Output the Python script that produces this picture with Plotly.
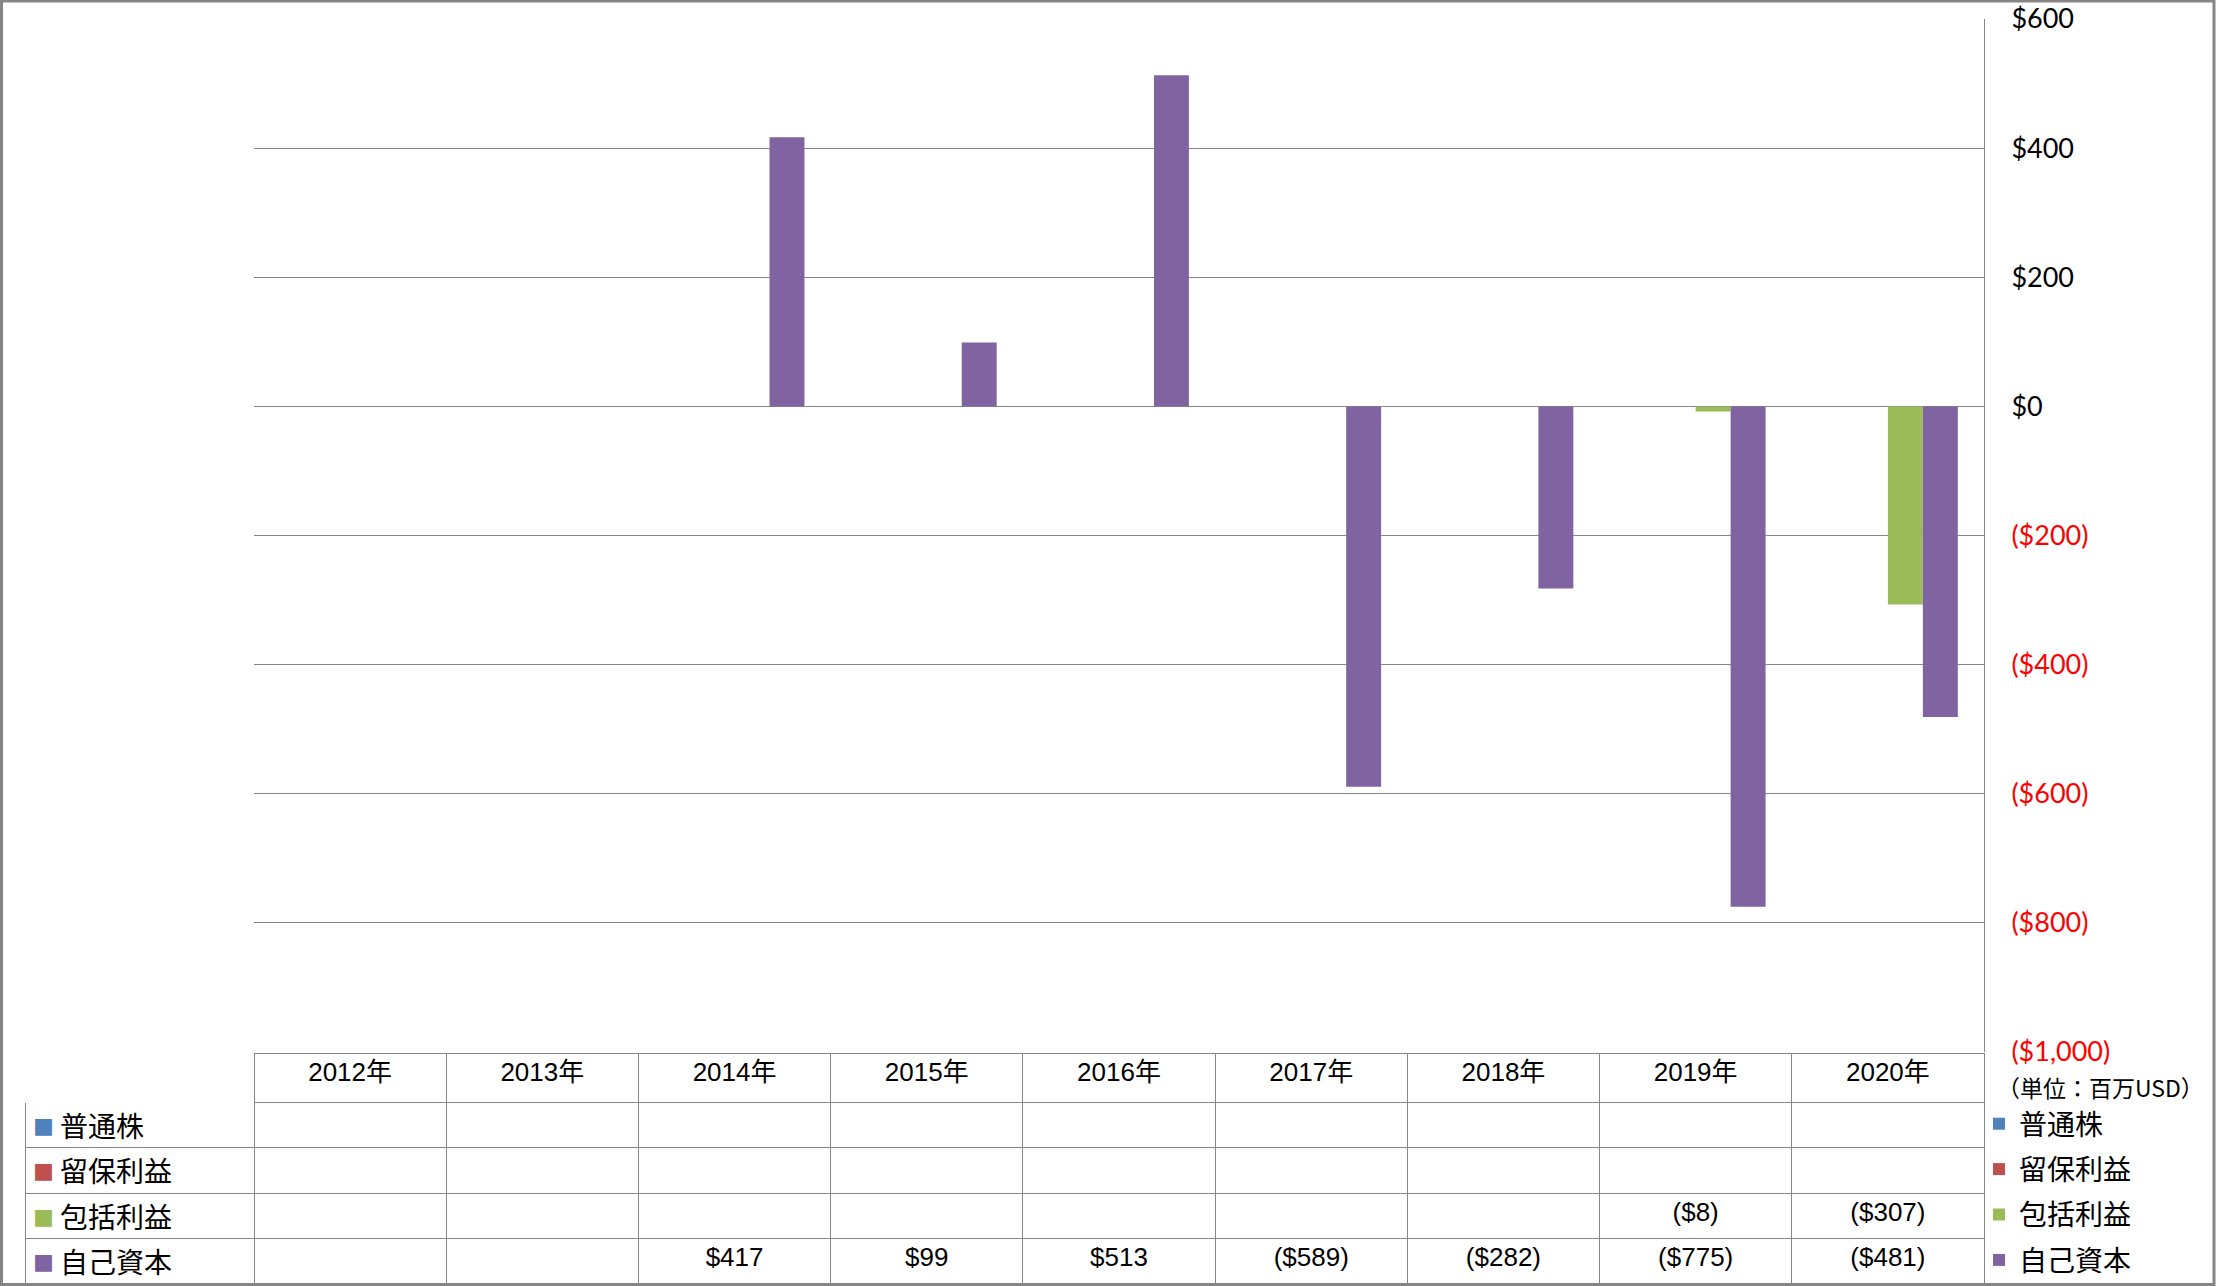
import plotly.graph_objects as go

# ---------------- data ----------------
years = ["2012年", "2013年", "2014年", "2015年", "2016年", "2017年", "2018年", "2019年", "2020年"]
series_names = ["普通株", "留保利益", "包括利益", "自己資本"]
common_stock = [None, None, None, None, None, None, None, None, None]
retained_earnings = [None, None, None, None, None, None, None, None, None]
comprehensive_income = [None, None, None, None, None, None, None, -8, -307]
equity = [None, None, 417, 99, 513, -589, -282, -775, -481]
tick_values = [600, 400, 200, 0, -200, -400, -600, -800, -1000]
unit_label = "（単位：百万USD）"

colors = ["#4F81BD", "#C0504D", "#9BBB59", "#8064A2"]
series_values = [common_stock, retained_earnings, comprehensive_income, equity]

# ---------------- geometry ----------------
W, H = 2216, 1286
ML, MR, MT, MB = 25, 232, 19, 2
PW = W - ML - MR
PH = H - MT - MB
plot_left_px = 254
plot_bottom_px = 1052
table_top_px = 1053
header_h = 49
cell_h = 45.5


def px_to_paper_x(px):
    return (px - ML) / PW


def px_to_paper_y(py):
    return (H - MB - py) / PH


def fmt(v):
    if v is None:
        return ""
    if v < 0:
        return "(${:,})".format(-v)
    return "${:,}".format(v)


def tick_fmt(v):
    if v < 0:
        return '<span style="color:#FF0000">(${:,})</span>'.format(-v)
    return "${:,}".format(v)


fig = go.Figure()

for name, vals, col in zip(series_names, series_values, colors):
    fig.add_trace(go.Bar(
        name=name, x=years, y=vals, marker=dict(color=col, line=dict(width=0)),
        legendgroup=name, showlegend=True,
        xaxis="x", yaxis="y",
    ))

# data table
table_cols = [["" for _ in series_names]]
for i in range(len(years)):
    table_cols.append([fmt(s[i]) for s in series_values])

grid = "#868686"
tfont = "Liberation Sans, Noto Sans CJK JP"
fig.add_trace(go.Table(
    domain=dict(x=[0, 1], y=[0, px_to_paper_y(table_top_px)]),
    columnwidth=[plot_left_px - ML] + [(W - MR - plot_left_px) / len(years)] * len(years),
    header=dict(
        values=[""] + years,
        height=header_h,
        align="center",
        fill=dict(color="white"),
        line=dict(color=["white"] + [grid] * len(years), width=1),
        font=dict(family=tfont, size=26, color="black"),
    ),
    cells=dict(
        values=table_cols,
        height=cell_h,
        align=["left"] + ["center"] * len(years),
        fill=dict(color="white"),
        line=dict(color=grid, width=1),
        font=dict(family=tfont, size=26, color="black"),
    ),
))

# row labels of the data table, with their colour keys
annotations = []
for k, (n, c) in enumerate(zip(series_names, colors)):
    yc = table_top_px + header_h + cell_h * (k + 0.5)
    annotations.append(dict(
        text="■", xref="paper", yref="paper",
        x=px_to_paper_x(43), y=px_to_paper_y(yc + 1),
        xanchor="center", yanchor="middle", showarrow=False,
        font=dict(family="Noto Sans CJK JP", size=21, color=c),
    ))
    annotations.append(dict(
        text=n, xref="paper", yref="paper",
        x=px_to_paper_x(58), y=px_to_paper_y(yc),
        xanchor="left", yanchor="middle", showarrow=False,
        font=dict(family="Noto Sans CJK JP", size=28, color="black"),
    ))
annotations.append(dict(
    text=unit_label, xref="paper", yref="paper",
    x=px_to_paper_x(1995), y=px_to_paper_y(1087),
    xanchor="left", yanchor="middle", showarrow=False,
    font=dict(family="Noto Sans CJK JP", size=23, color="black"),
))

fig.update_layout(
    width=W, height=H,
    margin=dict(l=ML, r=MR, t=MT, b=MB, pad=0, autoexpand=False),
    paper_bgcolor="white", plot_bgcolor="white",
    barmode="group", bargap=1.5 / 5.5, bargroupgap=0,
    font=dict(family="Lato, Noto Sans CJK JP", color="black"),
    xaxis=dict(
        domain=[px_to_paper_x(plot_left_px), 1],
        showticklabels=False, showgrid=False, zeroline=False, showline=False,
        ticks="", fixedrange=True, automargin=False,
    ),
    yaxis=dict(
        domain=[px_to_paper_y(plot_bottom_px), 1],
        range=[-1000, 600], side="right",
        tickvals=tick_values, ticktext=[tick_fmt(v) for v in tick_values],
        tickfont=dict(family="Lato", size=27, color="black"),
        showgrid=True, gridcolor=grid, gridwidth=1,
        zeroline=True, zerolinecolor=grid, zerolinewidth=1,
        showline=True, linecolor=grid, linewidth=1,
        ticks="", ticklabelstandoff=21, automargin=False,
    ),
    legend=dict(
        xref="paper", yref="paper",
        x=px_to_paper_x(1979), y=px_to_paper_y(1099), xanchor="left", yanchor="top",
        font=dict(family="Noto Sans CJK JP", size=28, color="black"),
        tracegroupgap=6, bgcolor="rgba(0,0,0,0)", borderwidth=0,
        traceorder="grouped",
    ),
    annotations=annotations,
    shapes=[dict(
        type="rect", xref="paper", yref="paper",
        x0=px_to_paper_x(1.5), x1=px_to_paper_x(2214),
        y0=px_to_paper_y(1284.5), y1=px_to_paper_y(1),
        line=dict(color=grid, width=3), fillcolor="rgba(0,0,0,0)", layer="above",
    )],
)

fig.write_html(
    "out.html",
    config={"displayModeBar": False},
    post_script="document.body.style.margin='0';document.body.style.overflow='hidden';",
)
